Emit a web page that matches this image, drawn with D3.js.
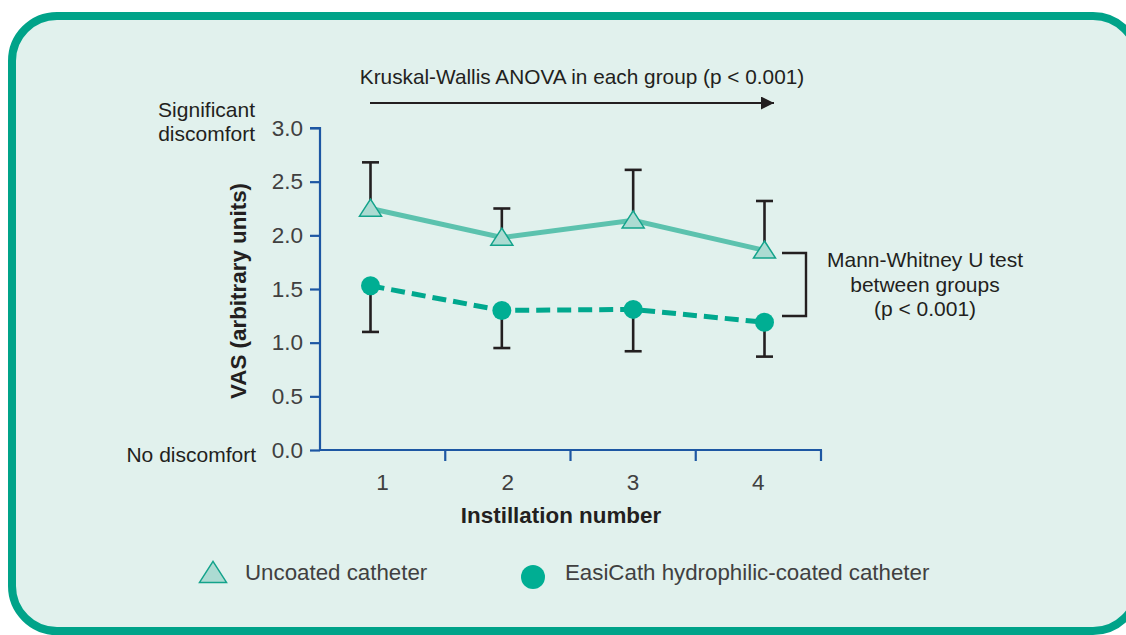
<!DOCTYPE html>
<html>
<head>
<meta charset="utf-8">
<script src="https://cdn.jsdelivr.net/npm/d3@7"></script>
<style>
  body { margin: 0; background: #fff; }
  svg text { font-family: "Liberation Sans", Arial, sans-serif; }
</style>
</head>
<body>
<div id="chart"></div>
<script>
// data
var instillations = ["1", "2", "3", "4"];
var uncoatedMean = [2.25, 1.98, 2.14, 1.86];
var uncoatedUpper = [2.68, 2.25, 2.61, 2.32];
var coatedMean = [1.53, 1.30, 1.31, 1.19];
var coatedLower = [1.10, 0.95, 0.92, 0.87];
var yTicks = [0, 0.5, 1.0, 1.5, 2.0, 2.5, 3.0];
var legendNames = ["Uncoated catheter", "EasiCath hydrophilic-coated catheter"];

var W = 1126, H = 635;
var teal = "#00a389";
var ink = "#231f20";
var soft = "#404040";
var axisBlue = "#1d57a3";

var svg = d3.select("#chart")
  .append("svg")
    .attr("width", W)
    .attr("height", H);

// rounded panel
svg.append("rect")
    .attr("x", 12)
    .attr("y", 16)
    .attr("width", 1126)
    .attr("height", 615)
    .attr("rx", 45)
    .attr("fill", "#e1f1ed")
    .attr("stroke", teal)
    .attr("stroke-width", 8);

// scales
var x = d3.scaleBand().domain(instillations).range([320, 821]);
var xPt = d3.scaleLinear().domain([0, 3]).range([370.5, 764.5]);  // markers sit a bit off band centre
var y = d3.scaleLinear().domain([0, 3]).range([450, 128]);

// y axis
var yAxis = svg.append("g")
    .attr("transform", "translate(320,0)")
    .call(d3.axisLeft(y).tickValues(yTicks).tickSize(10).tickPadding(7)
      .tickFormat(d3.format(".1f")));
yAxis.select(".domain").attr("stroke", axisBlue).attr("stroke-width", 2.2)
    .attr("d", "M-10," + y(3) + "H0V" + y(0));
yAxis.selectAll(".tick line").attr("stroke", axisBlue).attr("stroke-width", 2.2);
yAxis.selectAll(".tick text")
    .attr("fill", soft)
    .attr("font-size", "22.5px")
    .style("font-family", "Liberation Sans, Arial, sans-serif");

// x axis, ticks on band edges
var xAxis = svg.append("g")
    .attr("transform", "translate(0,450)");
xAxis.append("line")
    .attr("x1", 320).attr("x2", 822)
    .attr("y1", 0).attr("y2", 0)
    .attr("stroke", axisBlue).attr("stroke-width", 2.2);
xAxis.selectAll(".xtick")
    .data(instillations)
  .enter()
    .append("line")
    .attr("class", "xtick")
    .attr("x1", function(d) { return x(d) + x.bandwidth(); })
    .attr("x2", function(d) { return x(d) + x.bandwidth(); })
    .attr("y1", 0)
    .attr("y2", 11)
    .attr("stroke", axisBlue)
    .attr("stroke-width", 2.2);
xAxis.selectAll(".xlabel")
    .data(instillations)
  .enter()
    .append("text")
    .attr("class", "xlabel")
    .attr("x", function(d) { return x(d) + x.bandwidth() / 2; })
    .attr("y", 40)
    .attr("text-anchor", "middle")
    .attr("fill", soft)
    .attr("font-size", "22.5px")
    .text(function(d) { return d; });

// axis titles
svg.append("text")
    .attr("transform", "translate(246,291) rotate(-90)")
    .attr("text-anchor", "middle")
    .attr("font-size", "22.4px")
    .attr("font-weight", "bold")
    .attr("fill", ink)
    .text("VAS (arbitrary units)");

svg.append("text")
    .attr("x", 561)
    .attr("y", 523)
    .attr("text-anchor", "middle")
    .attr("font-size", "22.4px")
    .attr("font-weight", "bold")
    .attr("fill", ink)
    .text("Instillation number");

// end labels of the scale
var endLabels = svg.append("g")
    .attr("text-anchor", "end")
    .attr("font-size", "21px")
    .attr("fill", ink);
endLabels.append("text").attr("x", 255).attr("y", 117).text("Significant");
endLabels.append("text").attr("x", 255).attr("y", 141).text("discomfort");
endLabels.append("text").attr("x", 256).attr("y", y(0) + 12).text("No discomfort");

// error bars (one sided)
function drawErrors(means, ends, cls) {
  var g = svg.append("g")
      .attr("stroke", ink)
      .attr("stroke-width", 2.6);
  g.selectAll("." + cls)
      .data(means)
    .enter()
      .append("line")
      .attr("x1", function(d, i) { return xPt(i); })
      .attr("x2", function(d, i) { return xPt(i); })
      .attr("y1", function(d) { return y(d); })
      .attr("y2", function(d, i) { return y(ends[i]); });
  g.selectAll("." + cls + "cap")
      .data(ends)
    .enter()
      .append("line")
      .attr("x1", function(d, i) { return xPt(i) - 8.5; })
      .attr("x2", function(d, i) { return xPt(i) + 8.5; })
      .attr("y1", function(d) { return y(d); })
      .attr("y2", function(d) { return y(d); });
}
drawErrors(uncoatedMean, uncoatedUpper, "uerr");
drawErrors(coatedMean, coatedLower, "cerr");

var line = d3.line()
    .x(function(d, i) { return xPt(i); })
    .y(function(d) { return y(d); });

svg.append("path")
    .datum(uncoatedMean)
    .attr("d", line)
    .attr("fill", "none")
    .attr("stroke", "#5cc2ae")
    .attr("stroke-width", 5);

svg.append("path")
    .datum(coatedMean)
    .attr("d", line)
    .attr("fill", "none")
    .attr("stroke", "#00a88e")
    .attr("stroke-width", 5)
    .attr("stroke-dasharray", "14,7");

// markers
function triPath(w, h) {
  return "M0," + (-h * 0.55) + "L" + (w / 2) + "," + (h * 0.45) + "L" + (-w / 2) + "," + (h * 0.45) + "Z";
}

svg.selectAll(".tri")
    .data(uncoatedMean)
  .enter()
    .append("path")
    .attr("class", "tri")
    .attr("transform", function(d, i) { return "translate(" + xPt(i) + "," + y(d) + ")"; })
    .attr("d", triPath(22, 17))
    .attr("fill", "#acdbd2")
    .attr("stroke", "#13a38b")
    .attr("stroke-width", 1.5);

svg.selectAll(".dot")
    .data(coatedMean)
  .enter()
    .append("circle")
    .attr("class", "dot")
    .attr("cx", function(d, i) { return xPt(i); })
    .attr("cy", function(d) { return y(d); })
    .attr("r", 9.5)
    .attr("fill", "#00ae93");

// Kruskal-Wallis note with arrow
svg.append("defs")
  .append("marker")
    .attr("id", "arrowhead")
    .attr("viewBox", "0 0 10 10")
    .attr("refX", 10)
    .attr("refY", 5)
    .attr("markerUnits", "userSpaceOnUse")
    .attr("markerWidth", 21)
    .attr("markerHeight", 13)
    .attr("orient", "auto")
  .append("path")
    .attr("d", "M0,0L10,5L0,10Z")
    .attr("fill", ink);

svg.append("text")
    .attr("x", 582)
    .attr("y", 84)
    .attr("text-anchor", "middle")
    .attr("font-size", "20.8px")
    .attr("fill", ink)
    .text("Kruskal-Wallis ANOVA in each group (p < 0.001)");

svg.append("line")
    .attr("x1", 370).attr("x2", 774)
    .attr("y1", 103).attr("y2", 103)
    .attr("stroke", ink)
    .attr("stroke-width", 2.2)
    .attr("marker-end", "url(#arrowhead)");

// Mann-Whitney bracket and note
var bx = 806;
svg.append("path")
    .attr("d", "M782," + 253 + "H" + bx + "V" + 316 + "H782")
    .attr("fill", "none")
    .attr("stroke", ink)
    .attr("stroke-width", 2.4);

var mw = svg.append("text")
    .attr("text-anchor", "middle")
    .attr("font-size", "21px")
    .attr("fill", ink);
mw.append("tspan").attr("x", 925).attr("y", 267).text("Mann-Whitney U test");
mw.append("tspan").attr("x", 925).attr("y", 292).text("between groups");
mw.append("tspan").attr("x", 925).attr("y", 316).text("(p < 0.001)");

// legend
var legend = svg.append("g");
legend.append("path")
    .attr("transform", "translate(213,573)")
    .attr("d", triPath(27, 21))
    .attr("fill", "#acdbd2")
    .attr("stroke", "#13a38b")
    .attr("stroke-width", 1.5);
legend.append("circle")
    .attr("cx", 533)
    .attr("cy", 577)
    .attr("r", 12)
    .attr("fill", "#00ae93");
legend.selectAll(".legtext")
    .data(legendNames)
  .enter()
    .append("text")
    .attr("class", "legtext")
    .attr("x", function(d, i) { return i === 0 ? 245 : 565; })
    .attr("y", 580)
    .attr("font-size", "22.3px")
    .attr("fill", soft)
    .text(function(d) { return d; });
</script>
</body>
</html>
